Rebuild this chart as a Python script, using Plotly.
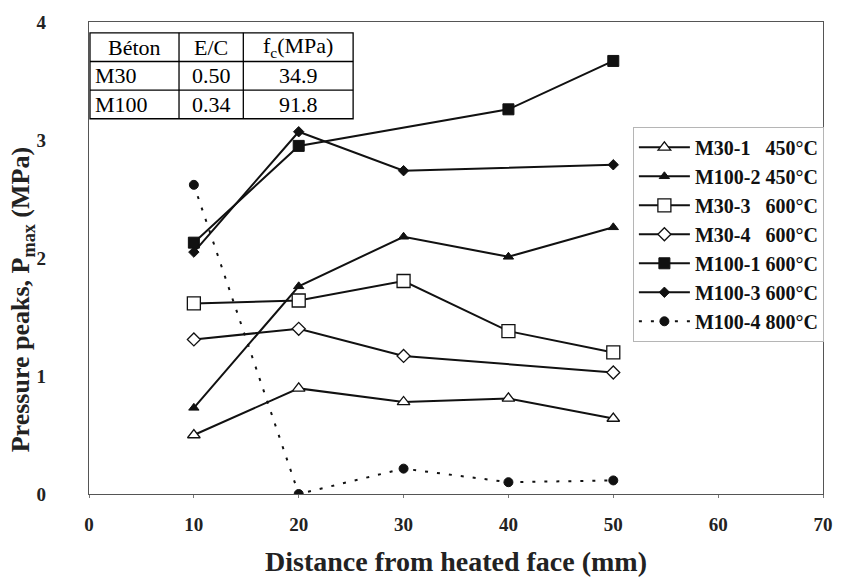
import plotly.graph_objects as go

# ---------------- data ----------------
distance = [10, 20, 30, 40, 50]

m30_1_450 = [0.50, 0.895, 0.78, 0.81, 0.64]
m100_2_450 = [0.73, 1.76, 2.18, 2.01, 2.26]
m30_3_600 = [1.615, 1.64, 1.805, 1.38, 1.20]
m30_4_600 = [1.31, 1.40, 1.17, None, 1.03]
m100_1_600 = [2.13, 2.95, None, 3.26, 3.67]
m100_3_600 = [2.05, 3.07, 2.74, None, 2.79]
m100_4_800 = [2.62, 0.0, 0.215, 0.10, 0.115]

series_names = [
    "M30-1\u00a0\u00a0\u00a0450°C",
    "M100-2 450°C",
    "M30-3\u00a0\u00a0\u00a0600°C",
    "M30-4\u00a0\u00a0\u00a0600°C",
    "M100-1 600°C",
    "M100-3 600°C",
    "M100-4 800°C",
]

table_header = ["Béton", "E/C", "f<sub>c</sub>(MPa)"]
table_beton = ["M30", "M100"]
table_ec = ["0.50", "0.34"]
table_fc = ["34.9", "91.8"]

x_ticks = [0, 10, 20, 30, 40, 50, 60, 70]
y_ticks = [0, 1, 2, 3, 4]

# ---------------- styles / layout ----------------
FONT = "Liberation Serif"
TABLE_FONT = "Liberation Serif, DejaVu Serif, serif"
INK = "#111111"
W, H = 845, 580
ML, MR, MT, MB = 89, 14, 16, 86
PW, PH = W - ML - MR, H - MT - MB

styles = [
    dict(symbol="triangle-up", size=11, color="white", lw=1.3, dash="solid"),
    dict(symbol="triangle-up", size=9, color=INK, lw=1, dash="solid"),
    dict(symbol="square", size=13, color="white", lw=1.3, dash="solid"),
    dict(symbol="diamond", size=10, color="white", lw=1.3, dash="solid"),
    dict(symbol="square", size=11, color=INK, lw=1, dash="solid"),
    dict(symbol="diamond", size=8, color=INK, lw=1, dash="solid"),
    dict(symbol="circle", size=9, color=INK, lw=1, dash="3px,9px"),
]
all_series = [m30_1_450, m100_2_450, m30_3_600, m30_4_600,
              m100_1_600, m100_3_600, m100_4_800]

fig = go.Figure()

for name, ys, st in zip(series_names, all_series, styles):
    fig.add_trace(go.Scatter(
        x=distance, y=ys, name=name, mode="lines+markers",
        connectgaps=True, legendgroup=name,
        line=dict(color=INK, width=2, dash=st["dash"]),
        marker=dict(symbol=st["symbol"], size=st["size"], color=st["color"],
                    line=dict(color=INK, width=st["lw"])),
    ))

# ---------------- properties table (shapes + text) ----------------
def px2x(px):
    return (px - ML) / PW


def px2y(py):
    return (H - MB - py) / PH


tbl_left, tbl_top, row_h = 90, 27, 29
col_w = [90, 65, 111]
col_edges = [tbl_left]
for w in col_w:
    col_edges.append(col_edges[-1] + w)
rows = [table_header] + [list(r) for r in zip(table_beton, table_ec, table_fc)]
row_edges = [tbl_top + i * row_h for i in range(len(rows) + 1)]

shapes = [dict(type="rect", xref="paper", yref="paper",
               x0=px2x(col_edges[0]), x1=px2x(col_edges[-1]),
               y0=px2y(row_edges[-1]), y1=px2y(row_edges[0]),
               fillcolor="white", line=dict(color="black", width=1.3),
               layer="above")]
for ce in col_edges[1:-1]:
    shapes.append(dict(type="line", xref="paper", yref="paper",
                       x0=px2x(ce), x1=px2x(ce),
                       y0=px2y(row_edges[-1]), y1=px2y(row_edges[0]),
                       line=dict(color="black", width=1.3), layer="above"))
for re_ in row_edges[1:-1]:
    shapes.append(dict(type="line", xref="paper", yref="paper",
                       x0=px2x(col_edges[0]), x1=px2x(col_edges[-1]),
                       y0=px2y(re_), y1=px2y(re_),
                       line=dict(color="black", width=1.3), layer="above"))

annotations = []
for ri, row in enumerate(rows):
    yc = px2y((row_edges[ri] + row_edges[ri + 1]) / 2)
    for ci, txt in enumerate(row):
        if ci == 0 and ri > 0:
            xa, xx = "left", px2x(col_edges[0] + 3)
        else:
            xa, xx = "center", px2x((col_edges[ci] + col_edges[ci + 1]) / 2)
        annotations.append(dict(
            text=txt, xref="paper", yref="paper", x=xx, y=yc,
            xanchor=xa, yanchor="middle", showarrow=False,
            font=dict(family=TABLE_FONT, size=22, color="black",
                      weight="normal", style="normal")))

annotations += [
    dict(text="Pressure peaks, P<sub>max</sub> (MPa)", xref="paper", yref="paper",
         x=px2x(21), y=0.412, xanchor="center", yanchor="middle",
         textangle=-90, showarrow=False,
         font=dict(family=FONT, size=26, color="#222222", weight="bold")),
    dict(text="Distance from heated face (mm)", xref="paper", yref="paper",
         x=0.5, y=-0.142, xanchor="center", yanchor="middle",
         showarrow=False,
         font=dict(family=FONT, size=28, color="#222222", weight="bold")),
]

fig.update_layout(
    width=W, height=H,
    margin=dict(l=ML, r=MR, t=MT, b=MB),
    paper_bgcolor="white", plot_bgcolor="white",
    font=dict(family=FONT, color=INK),
    showlegend=True,
    legend=dict(
        x=0.741, y=0.778, xanchor="left", yanchor="top",
        bgcolor="white", bordercolor="#b5b5b5", borderwidth=1,
        font=dict(family=FONT, size=20, color=INK, weight="bold"),
        itemwidth=51, tracegroupgap=0,
    ),
    xaxis=dict(
        range=[0, 70], tickvals=x_ticks, showgrid=False, zeroline=False,
        showline=True, linecolor="#555555", linewidth=1.3, mirror=True,
        ticks="outside", ticklen=3, tickcolor="#777777",
        ticklabelstandoff=10,
        tickfont=dict(family=FONT, size=19, color="#222222", weight="bold"),
    ),
    yaxis=dict(
        range=[0, 4], tickvals=y_ticks, showgrid=False, zeroline=False,
        showline=True, linecolor="#555555", linewidth=1.3, mirror=True,
        ticks="", ticklabelstandoff=38,
        tickfont=dict(family=FONT, size=19, color="#222222", weight="bold"),
    ),
    shapes=shapes,
    annotations=annotations,
)

fig.write_html("out.html")
